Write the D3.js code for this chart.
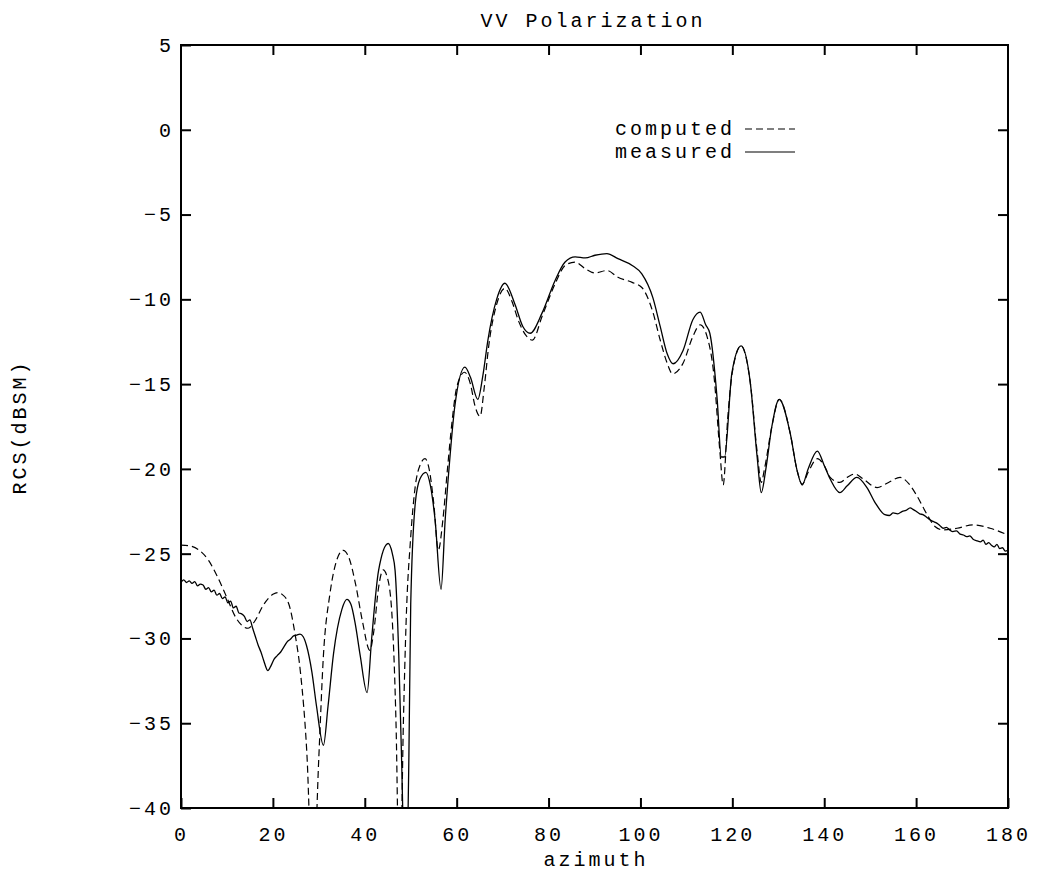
<!DOCTYPE html>
<html>
<head>
<meta charset="utf-8">
<script src="https://cdn.jsdelivr.net/npm/d3@7"></script>
<style>
  html, body { margin: 0; padding: 0; background: #fff; }
  svg { display: block; }
  text { font-family: "Liberation Mono", "DejaVu Sans Mono", monospace; fill: #000; }
</style>
</head>
<body>
<svg id="chart" width="1039" height="877"></svg>
<script>
// ---- data ----
const titleText = "VV Polarization";
const xLabel = "azimuth";
const yLabel = "RCS(dBSM)";
const xTicks = [0, 20, 40, 60, 80, 100, 120, 140, 160, 180];
const yTicks = [5, 0, -5, -10, -15, -20, -25, -30, -35, -40];
const seriesNames = ["computed", "measured"];

const computedAz = [0,2,4,6,8,10,12,14.6,16,18,20,21,22,23.5,24.8,26,27.4,28.7,30,31,32.4,34,35.3,36.5,38,39.5,41.1,42,43,44,45,46,46.8,47.6,48.4,49,50,51,52,53.1,54,55,56,57,58,59,60,61.7,63,64,65.1,66,67,68.7,70.5,72,73.5,75,76.5,78.6,81.4,83.6,85.8,88,90.1,92.7,95.1,98.2,100.3,102.7,104.3,105.8,107,109.3,111.4,113,114.5,116,117.3,118,119,120,121.9,123.9,125.4,126.3,127,128.6,130.2,132.6,134.1,135.2,136.5,138.5,140,141.3,143.4,145,146.7,148.5,151.5,154,156.5,158.5,160.2,162.4,164.1,165.9,168.9,172.4,176.1,180];
const computedVal = [-24.5,-24.55,-24.8,-25.4,-26.4,-27.6,-28.8,-29.4,-29.0,-28.0,-27.4,-27.3,-27.4,-28.0,-29.7,-32,-36.8,-45,-37,-31,-27.4,-25.3,-24.8,-25.2,-26.8,-29,-30.7,-29.5,-27,-25.96,-26.5,-29,-35,-46,-35,-29,-24,-21,-19.8,-19.4,-20,-22,-24.8,-23,-20,-17.2,-15.2,-14.3,-15,-16.3,-16.9,-15.2,-12.7,-10.3,-9.35,-10.1,-11.3,-12.1,-12.4,-11.0,-9.1,-8.0,-7.8,-8.2,-8.45,-8.3,-8.7,-9.0,-9.3,-10.75,-12.4,-13.75,-14.4,-13.75,-12.2,-11.5,-12.2,-14.5,-19,-20.95,-17,-14.3,-12.75,-14.9,-19,-20.8,-20,-17.5,-15.9,-17.9,-20.1,-20.9,-20.2,-19.4,-19.8,-20.5,-20.8,-20.5,-20.3,-20.6,-21.1,-20.8,-20.5,-20.9,-21.6,-22.7,-23.4,-23.6,-23.5,-23.3,-23.5,-23.9];

const measuredAz = [0,0.6,1.2,1.8,2.4,3,3.6,4.2,4.8,5.4,6,6.6,7.2,7.8,8.4,9,9.6,10.2,10.8,11.4,12,12.6,13.2,13.8,14.4,15,15.6,16.2,16.8,17.4,18,18.9,19.6,20.3,21,21.7,22.4,23.1,23.8,24.5,25.2,25.9,26.6,27.3,28.5,29.5,31,32,33.2,35,36.1,37,37.9,39,40.5,41.5,43,45.1,46,46.6,47.4,48,48.9,49.6,50,51,52,53.3,54.3,55.3,56.6,57.5,58.6,59.6,61.8,63,64.6,65.7,66.8,68.7,70.5,72.7,74.4,76,78.6,81.4,83.6,85.8,88,90.1,92.7,95.1,98.2,100.3,102.7,104.3,105.8,107.1,109.3,111.4,113,114.2,115.1,116.7,117.6,118.3,119.9,121.9,123.9,125.4,126.3,127.3,128.6,130.2,132.6,134.1,135.2,136.5,138.5,140,141.3,143.4,145,147.1,149.3,151.1,153.2,154.2,155,156,157,157.8,158.7,159.4,160,160.8,161.5,162.3,163,163.7,164.5,165.2,165.9,166.6,167.3,168,168.8,169.6,170.3,171,171.7,172.4,173.3,174,174.6,175.2,175.8,176.4,177,177.6,178.2,178.8,179.4,180];
const measuredVal = [-26.7,-26.55,-26.7,-26.6,-26.75,-26.65,-26.9,-26.8,-26.85,-27.1,-27.0,-27.25,-27.15,-27.45,-27.35,-27.65,-27.55,-27.9,-27.8,-28.2,-28.1,-28.5,-28.55,-28.7,-29.0,-28.9,-29.4,-29.9,-30.4,-30.8,-31.3,-31.9,-31.6,-31.2,-31.0,-30.8,-30.5,-30.2,-30.05,-29.85,-29.8,-29.75,-29.9,-30.4,-32.0,-34.0,-36.3,-34,-30.9,-28.3,-27.7,-28.0,-29.1,-31,-33.2,-30,-26,-24.4,-25.0,-26,-31,-37,-46,-37,-28,-22,-20.6,-20.2,-21,-23,-27.1,-23,-19.1,-16.3,-14.0,-14.6,-15.9,-14.5,-12.4,-10.0,-9.05,-10.3,-11.6,-12.0,-10.8,-8.9,-7.8,-7.5,-7.56,-7.4,-7.3,-7.6,-8.0,-8.5,-9.9,-11.6,-13.2,-13.8,-13.0,-11.2,-10.75,-11.5,-12.0,-15.9,-19.3,-19.3,-14.35,-12.75,-14.9,-19.3,-21.4,-20,-17.5,-15.9,-17.9,-20.1,-20.95,-20,-18.95,-19.8,-20.6,-21.4,-21,-20.5,-21.1,-22.0,-22.7,-22.75,-22.6,-22.65,-22.5,-22.45,-22.3,-22.4,-22.5,-22.65,-22.7,-22.85,-23.0,-23.1,-23.2,-23.35,-23.5,-23.45,-23.6,-23.7,-23.65,-23.85,-23.9,-24.0,-23.95,-24.15,-24.25,-24.3,-24.2,-24.45,-24.35,-24.5,-24.6,-24.45,-24.7,-24.65,-24.85,-24.8];

// ---- layout ----
const svg = d3.select("#chart");
const pLeft = 181, pRight = 1008, pTop = 45, pBottom = 808;
const x = d3.scaleLinear().domain([0, 180]).range([pLeft, pRight]);
const y = d3.scaleLinear().domain([-40, 5]).range([pBottom, pTop]);
const tickLen = 10;
const fontSize = 20;
const ls = "3px";

svg.append("defs").append("clipPath").attr("id", "clip")
  .append("rect").attr("x", pLeft).attr("y", pTop).attr("width", pRight - pLeft).attr("height", pBottom - pTop);

// frame
svg.append("rect").attr("x", pLeft).attr("y", pTop).attr("width", pRight - pLeft).attr("height", pBottom - pTop)
  .attr("fill", "none").attr("stroke", "#000").attr("stroke-width", 2);

// axes with inward ticks
const xAxisB = d3.axisBottom(x).tickValues(xTicks).tickSize(-tickLen).tickFormat(d3.format("d")).tickPadding(19);
const gxb = svg.append("g").attr("transform", `translate(0,${pBottom})`).call(xAxisB);
const xAxisT = d3.axisTop(x).tickValues(xTicks.slice(1, -1)).tickSize(-tickLen).tickFormat("");
const gxt = svg.append("g").attr("transform", `translate(0,${pTop})`).call(xAxisT);
const yAxisL = d3.axisLeft(y).tickValues(yTicks).tickSize(-tickLen).tickFormat(d3.format("d")).tickPadding(7);
const gyl = svg.append("g").attr("transform", `translate(${pLeft},0)`).call(yAxisL);
const yAxisR = d3.axisRight(y).tickValues(yTicks.slice(1, -1)).tickSize(-tickLen).tickFormat("");
const gyr = svg.append("g").attr("transform", `translate(${pRight},0)`).call(yAxisR);

[gxb, gxt, gyl, gyr].forEach(g => {
  g.select(".domain").remove();
  g.selectAll(".tick line").attr("stroke", "#000").attr("stroke-width", 2);
  g.selectAll("text").style("font-family", '"Liberation Mono", monospace').style("font-size", fontSize + "px")
    .style("letter-spacing", ls).attr("fill", "#000");
});

// title & labels
svg.append("text").attr("x", 593).attr("y", 27).attr("text-anchor", "middle")
  .style("font-size", fontSize + "px").style("letter-spacing", ls).text(titleText);
svg.append("text").attr("x", 596).attr("y", 866).attr("text-anchor", "middle")
  .style("font-size", fontSize + "px").style("letter-spacing", ls).text(xLabel);
svg.append("text").attr("transform", "translate(26,427) rotate(-90)").attr("text-anchor", "middle")
  .style("font-size", fontSize + "px").style("letter-spacing", ls).text(yLabel);

// lines
const line = d3.line().x(d => x(d[0])).y(d => y(d[1])).curve(d3.curveMonotoneX);
const computed = computedAz.map((a, i) => [a, computedVal[i]]);
const measured = measuredAz.map((a, i) => [a, measuredVal[i]]);
const plot = svg.append("g").attr("clip-path", "url(#clip)");
plot.append("path").datum(computed).attr("d", line).attr("fill", "none")
  .attr("stroke", "#000").attr("stroke-width", 1.2).attr("stroke-dasharray", "7,4");
plot.append("path").datum(measured).attr("d", line).attr("fill", "none")
  .attr("stroke", "#000").attr("stroke-width", 1.3);

// legend
const legY = [129, 152];
seriesNames.forEach((name, i) => {
  svg.append("text").attr("x", 735).attr("y", legY[i] + 6).attr("text-anchor", "end")
    .style("font-size", fontSize + "px").style("letter-spacing", ls).text(name);
  svg.append("line").attr("x1", 745).attr("x2", 795).attr("y1", legY[i]).attr("y2", legY[i])
    .attr("stroke", "#000").attr("stroke-width", 1.2)
    .attr("stroke-dasharray", i === 0 ? "7,4" : null);
});
</script>
</body>
</html>
